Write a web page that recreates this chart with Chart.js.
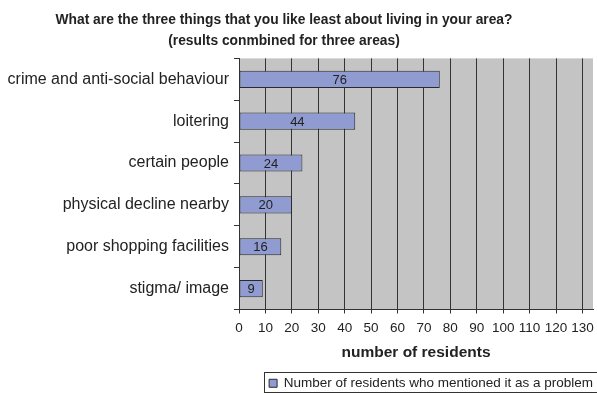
<!DOCTYPE html>
<html>
<head>
<meta charset="utf-8">
<script src="https://cdn.jsdelivr.net/npm/chart.js@4/dist/chart.umd.min.js"></script>
<style>
  html, body { margin: 0; padding: 0; background: #fff; }
  #wrap { width: 597px; height: 393px; }
</style>
</head>
<body>
<div id="wrap"><canvas id="chart"></canvas></div>
<script>
const categories = [
  "crime and anti-social behaviour",
  "loitering",
  "certain people",
  "physical decline nearby",
  "poor shopping facilities",
  "stigma/ image",
];
const residents = [76, 44, 24, 20, 16, 9];
const titleLines = [
  "What are the three things that you like least about living in your area?",
  "(results conmbined for three areas)",
];
const seriesName = "Number of residents who mentioned it as a problem";

const FONT = "'Liberation Sans', Arial, sans-serif";

// grey plot background
const plotBg = {
  id: "plotBg",
  beforeDraw(chart) {
    const { ctx, chartArea: a } = chart;
    ctx.save();
    ctx.fillStyle = "#c4c4c4";
    ctx.fillRect(a.left, a.top, a.right - a.left, a.bottom - a.top);
    ctx.restore();
  },
};

// value in the middle of each bar
const barValues = {
  id: "barValues",
  afterDatasetsDraw(chart) {
    const { ctx } = chart;
    const meta = chart.getDatasetMeta(0);
    ctx.save();
    ctx.font = "13px " + FONT;
    ctx.fillStyle = "#222";
    ctx.textAlign = "center";
    ctx.textBaseline = "middle";
    meta.data.forEach((bar, i) => {
      const { x, y, base } = bar.getProps(["x", "y", "base"], true);
      ctx.fillText(chart.data.datasets[0].data[i], (x + base) / 2, y + 1);
    });
    ctx.restore();
  },
};

// title a bit left of centre, legend nudged down and boxed
const tweaks = {
  id: "tweaks",
  afterLayout(chart) {
    const t = chart.titleBlock;
    t.right = t.left + 568;
    const lg = chart.legend;
    lg.top += 7;
    lg.bottom += 7;
    lg.right += 3;
  },
  afterDraw(chart) {
    const { ctx } = chart;
    const hb = chart.legend.legendHitBoxes[0];
    if (!hb) return;
    ctx.save();
    ctx.strokeStyle = "#333";
    ctx.lineWidth = 1;
    ctx.strokeRect(Math.round(hb.left) - 4.5, chart.height - 20.5, chart.width, 20);
    ctx.restore();
  },
};

new Chart(document.getElementById("chart"), {
  type: "bar",
  data: {
    labels: categories,
    datasets: [
      {
        label: seriesName,
        data: residents,
        backgroundColor: "#8f9bd1",
        borderColor: "#2a2a2a",
        borderWidth: 1,
        borderSkipped: false,
        barPercentage: 0.41,
        categoryPercentage: 1,
      },
    ],
  },
  options: {
    indexAxis: "y",
    responsive: true,
    maintainAspectRatio: false,
    animation: false,
    layout: { padding: { left: 0, right: 4, top: 0, bottom: 0 } },
    scales: {
      x: {
        min: 0,
        max: 134,
        ticks: {
          stepSize: 10,
          includeBounds: false,
          color: "#222",
          font: { family: FONT, size: 13.5 },
          maxRotation: 0,
          padding: 7,
        },
        grid: { color: "#333", lineWidth: 1, tickLength: 4, drawTicks: true },
        border: { color: "#333", width: 1 },
        title: {
          display: true,
          text: "number of residents",
          color: "#222",
          font: { family: FONT, size: 15.5, weight: "bold" },
          padding: { top: 3, bottom: 4.5 },
        },
        afterFit(scale) {
          scale.height = 57;
          scale.paddingRight = 0;
        },
      },
      y: {
        ticks: {
          color: "#222",
          font: { family: FONT, size: 16 },
          padding: 5,
        },
        grid: { display: true, drawOnChartArea: false, offset: true, tickLength: 5, color: "#333" },
        border: { color: "#333", width: 1 },
        afterFit(scale) { scale.width = 239; },
      },
    },
    plugins: {
      title: {
        display: true,
        text: titleLines,
        color: "#222",
        font: { family: FONT, size: 13.8, weight: "bold", lineHeight: 1.5 },
        padding: { top: 10, bottom: 7 },
      },
      legend: {
        position: "bottom",
        align: "end",
        labels: {
          color: "#222",
          font: { family: FONT, size: 13.5 },
          boxWidth: 8,
          boxHeight: 8,
          padding: 3,
        },
      },
      tooltip: { enabled: false },
    },
  },
  plugins: [plotBg, barValues, tweaks],
});
</script>
</body>
</html>
